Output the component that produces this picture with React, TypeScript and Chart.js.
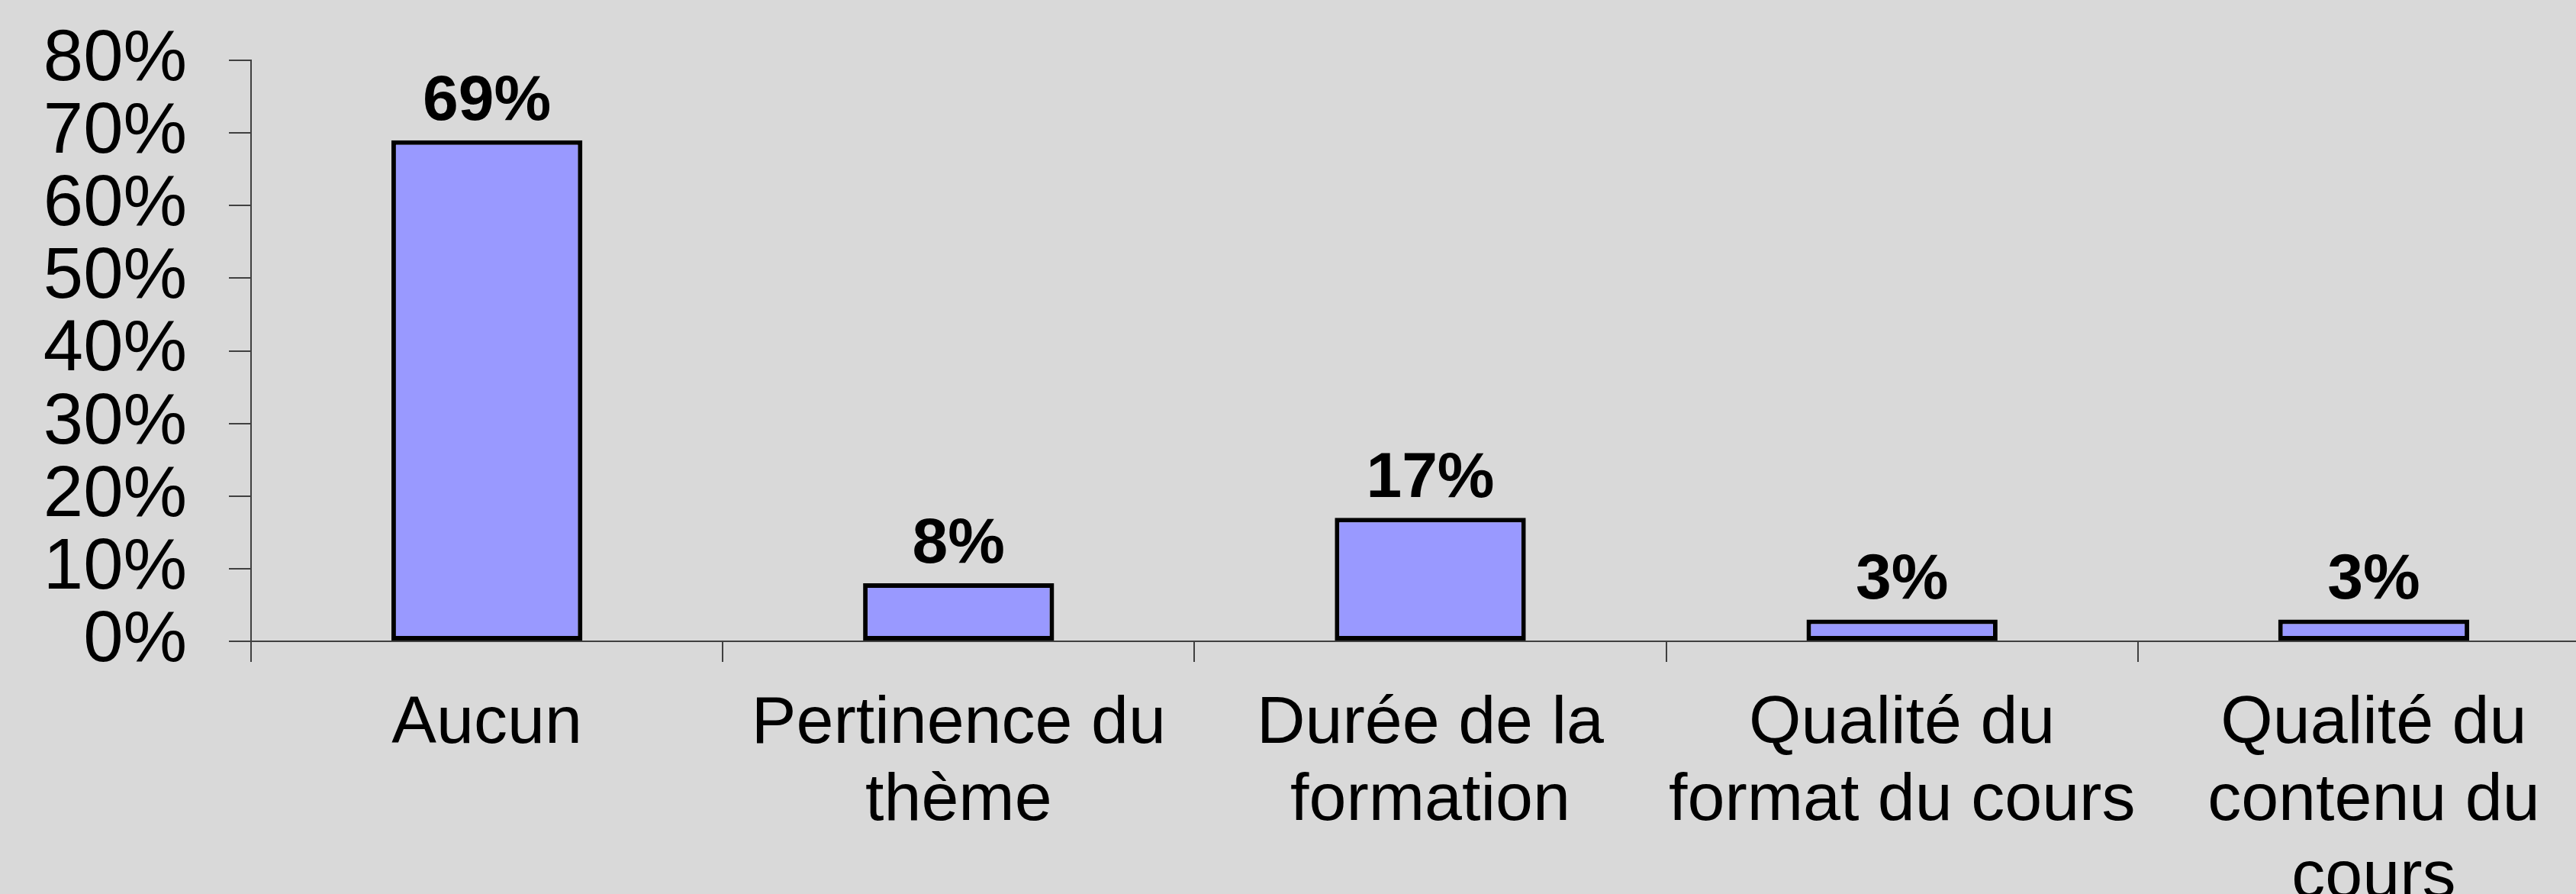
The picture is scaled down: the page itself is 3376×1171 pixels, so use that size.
import React, { useEffect, useRef } from "react";
import { Chart, registerables } from "chart.js";

Chart.register(...registerables);

const categories: string[][] = [
  ["Aucun"],
  ["Pertinence du", "thème"],
  ["Durée de la", "formation"],
  ["Qualité du", "format du cours"],
  ["Qualité du", "contenu du", "cours"],
];
const values: number[] = [69, 8, 17, 3, 3];
const yMax = 80;
const yStep = 10;

const FONT = '"Liberation Sans", Arial, Helvetica, sans-serif';
const BG = "#d9d9d9";
const AXIS = "#404040";

export default function App() {
  const ref = useRef<HTMLCanvasElement | null>(null);

  useEffect(() => {
    const canvas = ref.current;
    if (!canvas) return;

    const bgPlugin = {
      id: "bg",
      beforeDraw(chart: any) {
        const c = chart.ctx;
        c.save();
        c.fillStyle = BG;
        c.fillRect(0, 0, chart.width, chart.height);
        c.restore();
      },
    };

    const labelPlugin = {
      id: "valueLabels",
      afterDatasetsDraw(chart: any) {
        const c = chart.ctx;
        const meta = chart.getDatasetMeta(0);
        c.save();
        c.font = `bold 84px ${FONT}`;
        c.fillStyle = "#000";
        c.textAlign = "center";
        c.textBaseline = "alphabetic";
        meta.data.forEach((bar: any, i: number) => {
          c.fillText(values[i] + "%", bar.x, bar.y - 27);
        });
        c.restore();
      },
    };

    const chart = new Chart(canvas, {
      type: "bar",
      data: {
        labels: categories,
        datasets: [
          {
            data: values,
            backgroundColor: "#9999ff",
            borderColor: "#000000",
            borderWidth: 6,
            borderSkipped: false,
            categoryPercentage: 1,
            barPercentage: 0.405,
          },
        ],
      },
      options: {
        animation: false,
        responsive: false,
        devicePixelRatio: 1,
        layout: { padding: { top: 79, left: 0, right: 0, bottom: 0 } },
        plugins: {
          legend: { display: false },
          tooltip: { enabled: false },
        },
        scales: {
          x: {
            offset: true,
            grid: {
              offset: true,
              drawOnChartArea: false,
              drawTicks: true,
              tickLength: 27,
              color: AXIS,
              lineWidth: 2,
            },
            border: { display: true, color: AXIS, width: 2 },
            ticks: {
              color: "#000",
              font: { family: FONT, size: 88, lineHeight: 1.15 },
              padding: 31,
              maxRotation: 0,
              minRotation: 0,
              autoSkip: false,
            },
            afterFit: (scale: any) => {
              scale.height = 1171 - 840;
            },
          },
          y: {
            min: 0,
            max: yMax,
            grid: {
              drawOnChartArea: false,
              drawTicks: true,
              tickLength: 29,
              color: AXIS,
              lineWidth: 2,
            },
            border: { display: true, color: AXIS, width: 2 },
            ticks: {
              stepSize: yStep,
              autoSkip: false,
              color: "#000",
              font: { family: FONT, size: 94, lineHeight: 0.45 },
              padding: 55,
              callback: (v: any) => v + "%",
            },
            afterFit: (scale: any) => {
              scale.width = 329;
            },
          },
        },
      },
      plugins: [bgPlugin, labelPlugin],
    });

    return () => chart.destroy();
  }, []);

  return (
    <div
      style={{
        position: "fixed",
        left: 0,
        top: 0,
        width: 3420,
        height: 1171,
        background: BG,
        overflow: "hidden",
      }}
    >
      <canvas ref={ref} width={3420} height={1171} style={{ display: "block" }} />
    </div>
  );
}
